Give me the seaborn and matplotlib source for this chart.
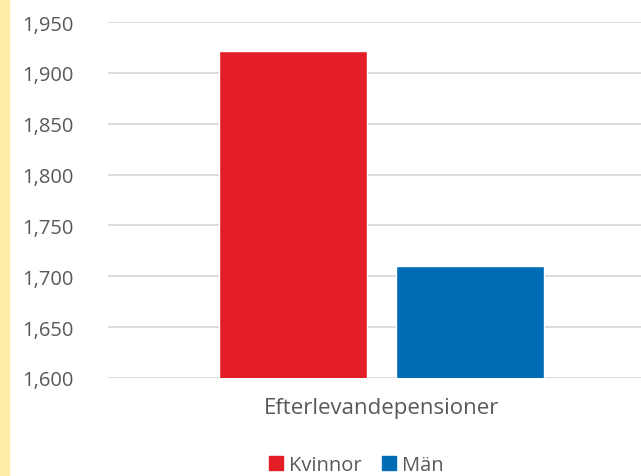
import matplotlib
matplotlib.use('Agg')
import matplotlib.pyplot as plt
import matplotlib.patches as mpatches
import matplotlib.ticker as mticker
import seaborn as sns
import pandas as pd

# data
categories = ["Efterlevandepensioner"]
groups = ["Kvinnor", "Män"]
values = [1921, 1710]
colors = ["#E31E26", "#006CB5"]
yticks = [1600, 1650, 1700, 1750, 1800, 1850, 1900, 1950]

df = pd.DataFrame({
    "kategori": categories * len(groups),
    "kon": groups,
    "varde": values,
})

sns.set_theme(style="white")
plt.rcParams['font.family'] = ['Open Sans', 'DejaVu Sans']

W, H = 641, 477
fig = plt.figure(figsize=(W / 100, H / 100), dpi=100)
ax = fig.add_axes([108 / W, (H - 379) / H, (W - 108) / W, (379 - 23) / H])

sns.barplot(data=df, x="kategori", y="varde", hue="kon", palette=colors,
            width=0.8, gap=0.164, ax=ax, legend=False, saturation=1)

ax.set_ylim(1600, 1950)
ax.set_xlim(-0.618, 0.586)
ax.set_yticks(yticks)
ax.yaxis.set_major_formatter(mticker.FuncFormatter(lambda v, p: f"{int(v):,}"))
ax.grid(axis="y", color="#d9d9d9", linewidth=1.3)
ax.set_axisbelow(True)
for s in ax.spines.values():
    s.set_visible(False)
ax.tick_params(axis="y", length=0, pad=25, labelsize=14.5, labelcolor="#595959")
ax.tick_params(axis="x", length=0, pad=14, labelsize=16, labelcolor="#595959")
ax.set_xlabel("")
ax.set_ylabel("")

handles = [mpatches.Patch(color=c, label=g) for g, c in zip(groups, colors)]
fig.legend(handles=handles, loc="center", bbox_to_anchor=(356 / W, 1 - 466 / H),
           ncol=2, frameon=False, fontsize=14.5, labelcolor="#595959",
           handlelength=0.7, handleheight=0.7, handletextpad=0.3, columnspacing=1.0)

# yellow strip on the left edge
fig.patches.append(mpatches.Rectangle((0, 0), 9 / W, 1, transform=fig.transFigure,
                                      color="#FFEEA8", zorder=0))

fig.savefig("out.png", dpi=100)
